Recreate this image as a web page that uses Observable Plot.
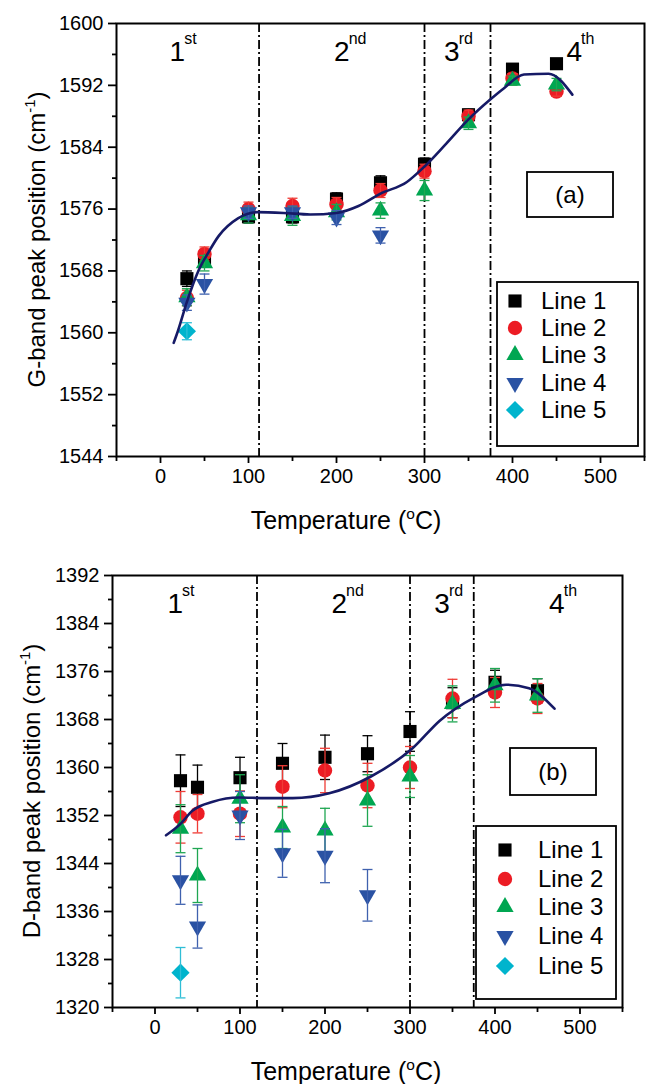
<!DOCTYPE html>
<html><head><meta charset="utf-8">
<script src="https://cdn.jsdelivr.net/npm/d3@7"></script>
<script src="https://cdn.jsdelivr.net/npm/@observablehq/plot@0.6"></script>
<style>
body{margin:0;background:#fff;}
#chart{width:647px;}
#chart svg{display:block;overflow:visible;}
</style></head><body><div id="chart"></div>
<script>
const FONT = '"Liberation Sans", Arial, Helvetica, sans-serif';

// ---- shared ----
const temps = [30, 50, 100, 150, 200, 250, 300, 350, 400, 450];
const seriesNames = ["Line 1", "Line 2", "Line 3", "Line 4", "Line 5"];
const seriesColors = ["#000000", "#ec1c24", "#00a651", "#2a52a3", "#00b4cd"];
const errColors = ["#000000", "#ef3b35", "#1fa652", "#3f61ae", "#2fbed6"];
const xMajorTicks = [0, 100, 200, 300, 400, 500];
const xMinorTicks = [-50, 50, 150, 250, 350, 450, 550];
const regionNums = ["1", "2", "3", "4"];
const regionSups = ["st", "nd", "rd", "th"];

// ---- panel (a): G-band ----
const gLine1 = [1567.0, 1569.5, 1575.0, 1575.0, 1577.3, 1579.4, 1581.8, 1588.2, 1594.1, 1594.8];
const gLine1Err = [1.0, 0.9, 0.8, 0.8, 0.8, 0.9, 0.8, 0.7, 0.5, 0.5];
const gLine2 = [1564.5, 1570.2, 1576.0, 1576.4, 1576.6, 1578.4, 1580.9, 1588.0, 1592.9, 1591.2];
const gLine2Err = [1.0, 0.9, 0.9, 1.0, 0.9, 0.9, 0.9, 0.8, 0.6, 0.6];
const gLine3 = [1564.6, 1569.0, 1575.2, 1575.1, 1575.6, 1575.8, 1578.4, 1587.1, 1592.6, 1592.1];
const gLine3Err = [1.1, 1.0, 1.0, 1.2, 1.0, 1.0, 1.3, 0.8, 0.6, 0.8];
const gLine4 = [1563.9, 1566.3, 1575.6, 1575.6, 1574.9, 1572.6];
const gLine4Err = [1.0, 1.3, 0.8, 0.8, 0.9, 1.0];
const gLine5 = [1560.2];
const gLine5Err = [1.1];
const gFitT = [15, 20, 30, 43, 55, 66, 88, 110, 140, 170, 200, 225, 250, 280, 300, 325, 350, 375, 390, 413, 441, 468];
const gFitV = [1558.7, 1560.3, 1564.0, 1568.0, 1570.5, 1572.5, 1574.8, 1575.6, 1575.5, 1575.3, 1575.5, 1576.4, 1578.0, 1579.5, 1581.5, 1584.5, 1587.6, 1590.2, 1591.6, 1593.4, 1593.5, 1590.8];
const gDividers = [112, 300, 375];
const gRegionT = [28, 215, 340, 479];
const gYMajor = [1544, 1552, 1560, 1568, 1576, 1584, 1592, 1600];
const gYMinor = [1548, 1556, 1564, 1572, 1580, 1588, 1596];

// ---- panel (b): D-band ----
const dLine1 = [1357.8, 1356.7, 1358.3, 1360.7, 1361.7, 1362.3, 1366.0, 1370.8, 1374.2, 1372.8];
const dLine1Err = [4.3, 3.7, 3.4, 3.3, 3.7, 3.0, 3.3, 2.5, 2.0, 2.0];
const dLine2 = [1351.7, 1352.3, 1352.3, 1356.8, 1359.5, 1357.0, 1360.0, 1371.5, 1372.5, 1371.5];
const dLine2Err = [4.3, 3.2, 3.8, 3.5, 3.7, 3.7, 3.5, 3.2, 2.5, 2.5];
const dLine3 = [1349.8, 1342.0, 1354.8, 1350.0, 1349.5, 1354.5, 1358.5, 1370.6, 1373.7, 1372.0];
const dLine3Err = [4.0, 4.5, 4.0, 3.5, 3.7, 4.3, 3.5, 3.0, 2.8, 2.8];
const dLine4 = [1341.2, 1333.5, 1352.0, 1345.7, 1345.3, 1338.7];
const dLine4Err = [4.0, 3.6, 4.0, 4.0, 4.5, 4.3];
const dLine5 = [1325.8];
const dLine5Err = [4.2];
const dFitT = [13, 30, 44, 68, 99, 130, 162, 205, 254, 303, 335, 376, 413, 440, 470];
const dFitV = [1348.7, 1350.6, 1352.8, 1354.3, 1355.0, 1354.9, 1354.9, 1355.7, 1358.5, 1363.2, 1367.8, 1371.7, 1373.8, 1373.2, 1369.8];
const dDividers = [120, 300, 375];
const dRegionT = [33, 226, 347, 482];
const dYMajor = [1320, 1328, 1336, 1344, 1352, 1360, 1368, 1376, 1384, 1392];
const dYMinor = [1324, 1332, 1340, 1348, 1356, 1364, 1372, 1380, 1388];

// symbol styles
const capSymbol = {draw(ctx) { ctx.moveTo(-5, 0); ctx.lineTo(5, 0); }};
const symStyles = [
  {symbol: "square", r: 7.4, rotate: 0, d3type: d3.symbolSquare},
  {symbol: "circle", r: 7.2, rotate: 0, d3type: d3.symbolCircle},
  {symbol: "triangle", r: 6.4, rotate: 0, d3type: d3.symbolTriangle},
  {symbol: "triangle", r: 6.4, rotate: 180, d3type: d3.symbolTriangle},
  {symbol: "diamond2", r: 8.2, rotate: 0, d3type: d3.symbolDiamond2}
];

function addSuperText(parent, x, y, parts, size, anchor, rotate) {
  const t = parent.append("text").attr("x", x).attr("y", y)
    .attr("text-anchor", anchor).attr("font-family", FONT)
    .attr("font-size", size).attr("fill", "#000");
  if (rotate) t.attr("transform", `rotate(${rotate},${x},${y})`);
  let shift = 0;
  for (const p of parts) {
    const ts = t.append("tspan").text(p.t);
    if (p.sup) { ts.attr("dy", -0.42 * size - shift).attr("font-size", size * 0.62); shift = -0.42 * size; }
    else if (shift !== 0) { ts.attr("dy", -shift); shift = 0; }
  }
  return t;
}

function makePanel(cfg) {
  const series = cfg.values.map((vals, i) => vals.map((v, j) => ({T: temps[j], v, e: cfg.errs[i][j]})));
  const fit = cfg.fitT.map((T, i) => ({T, v: cfg.fitV[i]}));
  const regions = cfg.regionT.map((T, i) => ({T, n: regionNums[i], s: regionSups[i]}));
  const marks = [
    Plot.ruleX(cfg.dividers, {stroke: "#000", strokeWidth: 1.8, strokeDasharray: "9,3,2,3"})
  ];
  series.forEach((rows, i) => {
    const st = symStyles[i];
    marks.push(Plot.dot(rows, {x: "T", y: "v", symbol: st.symbol, r: st.r, rotate: st.rotate, fill: seriesColors[i], stroke: "none"}));
    marks.push(Plot.ruleX(rows, {x: "T", y1: d => d.v - d.e, y2: d => d.v + d.e, stroke: errColors[i], strokeWidth: 1.3}));
    marks.push(Plot.dot(rows, {x: "T", y: d => d.v - d.e, symbol: capSymbol, r: 3, fill: "none", stroke: errColors[i], strokeWidth: 1.3}));
    marks.push(Plot.dot(rows, {x: "T", y: d => d.v + d.e, symbol: capSymbol, r: 3, fill: "none", stroke: errColors[i], strokeWidth: 1.3}));
  });
  marks.push(Plot.line(fit, {x: "T", y: "v", curve: "monotone-x", stroke: "#161a66", strokeWidth: 2.6}));
  marks.push(Plot.text(regions, {x: "T", text: "n", frameAnchor: "top", textAnchor: "end", lineAnchor: "bottom", dy: 37, fontSize: 28, fill: "#000"}));
  marks.push(Plot.text(regions, {x: "T", text: "s", frameAnchor: "top", textAnchor: "start", lineAnchor: "bottom", dy: 20, dx: -1, fontSize: 16, fill: "#000"}));
  marks.push(Plot.axisY(cfg.yMajor, {tickSize: 8, tickPadding: 5, fontSize: 20, tickFormat: d3.format("d"), label: null, strokeWidth: 1.8}));
  marks.push(Plot.axisY(cfg.yMinor, {tickSize: 4, tickFormat: () => "", label: null, strokeWidth: 1.8}));
  marks.push(Plot.axisX(xMajorTicks, {tickSize: 7, tickPadding: 5, fontSize: 20, tickFormat: d3.format("d"), label: null, strokeWidth: 1.8}));
  marks.push(Plot.axisX(xMinorTicks, {tickSize: 5, tickFormat: () => "", label: null, strokeWidth: 1.8}));
  marks.push(Plot.frame({stroke: "#000", strokeWidth: 2}));

  const plot = Plot.plot({
    width: 647, height: cfg.height,
    marginTop: cfg.mt, marginBottom: cfg.mb, marginLeft: cfg.ml, marginRight: cfg.mr,
    style: {fontFamily: FONT, color: "#000", background: "#fff"},
    x: {domain: [-50, 550]},
    y: {domain: cfg.yDomain},
    marks
  });
  const svg = d3.select(plot);
  // axis titles
  addSuperText(svg, cfg.xTitleX, cfg.height - cfg.mb + 73, [{t: "Temperature ("}, {t: "o", sup: true}, {t: "C)"}], 25, "middle");
  addSuperText(svg, cfg.yTitleX, (cfg.mt + cfg.height - cfg.mb) / 2, [{t: cfg.yTitle + " (cm"}, {t: "-1", sup: true}, {t: ")"}], 24, "middle", -90);
  // panel label box
  const b = cfg.tagBox;
  svg.append("rect").attr("x", b[0]).attr("y", b[1]).attr("width", b[2]).attr("height", b[3]).attr("fill", "#fff").attr("stroke", "#000").attr("stroke-width", 1.8);
  svg.append("text").attr("x", b[0] + b[2] / 2).attr("y", b[1] + b[3] / 2 + 8).attr("text-anchor", "middle").attr("font-family", FONT).attr("font-size", 24).text(cfg.tag);
  // legend
  const L = cfg.legend;
  svg.append("rect").attr("x", L.x).attr("y", L.y).attr("width", L.w).attr("height", L.h).attr("fill", "#fff").attr("stroke", "#000").attr("stroke-width", 1.8);
  seriesNames.forEach((name, i) => {
    const st = symStyles[i];
    const yy = L.rows[i];
    svg.append("path").attr("d", d3.symbol(st.d3type, Math.PI * st.r * st.r)())
      .attr("transform", `translate(${L.symX},${yy}) rotate(${st.rotate})`).attr("fill", seriesColors[i]);
    svg.append("text").attr("x", L.textX).attr("y", yy + 8).attr("text-anchor", "start").attr("font-family", FONT).attr("font-size", 24).text(name);
  });
  return plot;
}

const root = document.getElementById("chart");
root.appendChild(makePanel({
  height: 540, mt: 23, mb: 84, ml: 116, mr: 3,
  yDomain: [1544, 1600], yMajor: gYMajor, yMinor: gYMinor,
  values: [gLine1, gLine2, gLine3, gLine4, gLine5], errs: [gLine1Err, gLine2Err, gLine3Err, gLine4Err, gLine5Err],
  fitT: gFitT, fitV: gFitV, dividers: gDividers, regionT: gRegionT,
  yTitle: "G-band peak position", yTitleX: 45, xTitleX: 346,
  tag: "(a)", tagBox: [527, 172, 86, 45],
  legend: {x: 497, y: 282, w: 141, h: 164, symX: 515, textX: 541, rows: [301, 328, 355, 383, 410]}
}));
root.appendChild(makePanel({
  height: 544, mt: 35, mb: 77, ml: 112, mr: 25,
  yDomain: [1320, 1392], yMajor: dYMajor, yMinor: dYMinor,
  values: [dLine1, dLine2, dLine3, dLine4, dLine5], errs: [dLine1Err, dLine2Err, dLine3Err, dLine4Err, dLine5Err],
  fitT: dFitT, fitV: dFitV, dividers: dDividers, regionT: dRegionT,
  yTitle: "D-band peak position", yTitleX: 40, xTitleX: 346,
  tag: "(b)", tagBox: [510, 208, 86, 47],
  legend: {x: 476, y: 286, w: 140, h: 173, symX: 505, textX: 538, rows: [310, 339, 367, 396, 426]}
}));
</script></body></html>
